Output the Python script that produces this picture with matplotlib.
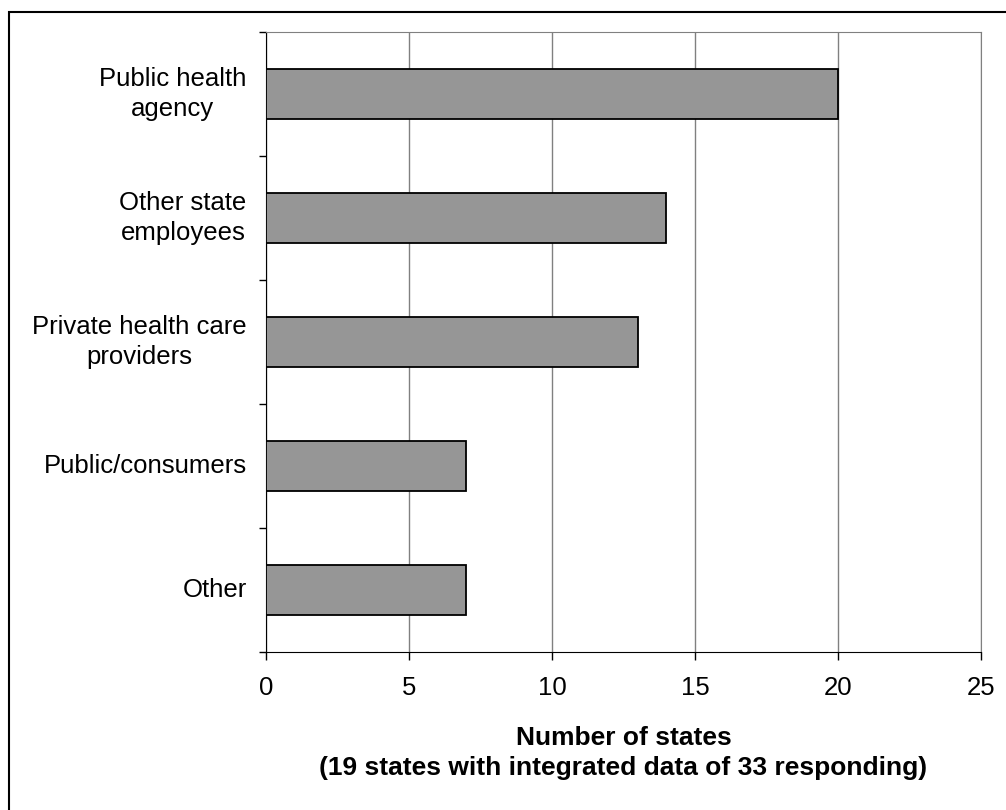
import matplotlib
matplotlib.use("Agg")
import matplotlib.pyplot as plt
from matplotlib.patches import Rectangle

plt.rcParams['font.family'] = ['Liberation Sans', 'DejaVu Sans']

categories = ['Public health\nagency', 'Other state\nemployees', 'Private health care\nproviders',
              'Public/consumers', 'Other']
counts = [20, 14, 13, 7, 7]
xticks = [0, 5, 10, 15, 20, 25]

fig = plt.figure(figsize=(10.06, 8.10), dpi=100)
ax = fig.add_axes([266/1006, 1-652/810, (981-266)/1006, 620/810])

ypos = list(range(len(categories)))
ax.barh(ypos, counts, height=0.41, color='#969696', edgecolor='black', linewidth=1.3, zorder=3)

ax.set_xlim(0, 25)
ax.set_ylim(len(categories)-0.5, -0.5)
ax.set_xticks(xticks)
ax.set_xticklabels([str(t) for t in xticks], fontsize=18.5)
ax.xaxis.grid(True, color='#808080', linewidth=1.0, zorder=0)

# category boundaries get the tick marks, centres get the labels
ax.set_yticks([i - 0.5 for i in range(len(categories)+1)])
ax.set_yticklabels([])
ax.set_yticks(ypos, minor=True)
ax.set_yticklabels(categories, minor=True, fontsize=18.5, multialignment='center',
                   linespacing=1.3, va='center')
ax.tick_params(axis='y', which='major', direction='out', length=5, width=1, color='black')
ax.tick_params(axis='y', which='minor', length=0, pad=14)
ax.tick_params(axis='x', direction='out', length=6, width=1, color='black', pad=11)

ax.spines['top'].set_color('#808080')
ax.spines['right'].set_color('#808080')
ax.spines['left'].set_color('black')
ax.spines['bottom'].set_color('black')

ax.set_xlabel('Number of states\n(19 states with integrated data of 33 responding)',
              fontsize=19, fontweight='bold', labelpad=19, linespacing=1.3)

fig.patches.append(Rectangle((9/1006, -0.1), 1.2, 1.1 - 12/810, transform=fig.transFigure,
                             fill=False, edgecolor='black', linewidth=1.5))

fig.savefig('out.png', dpi=100)
